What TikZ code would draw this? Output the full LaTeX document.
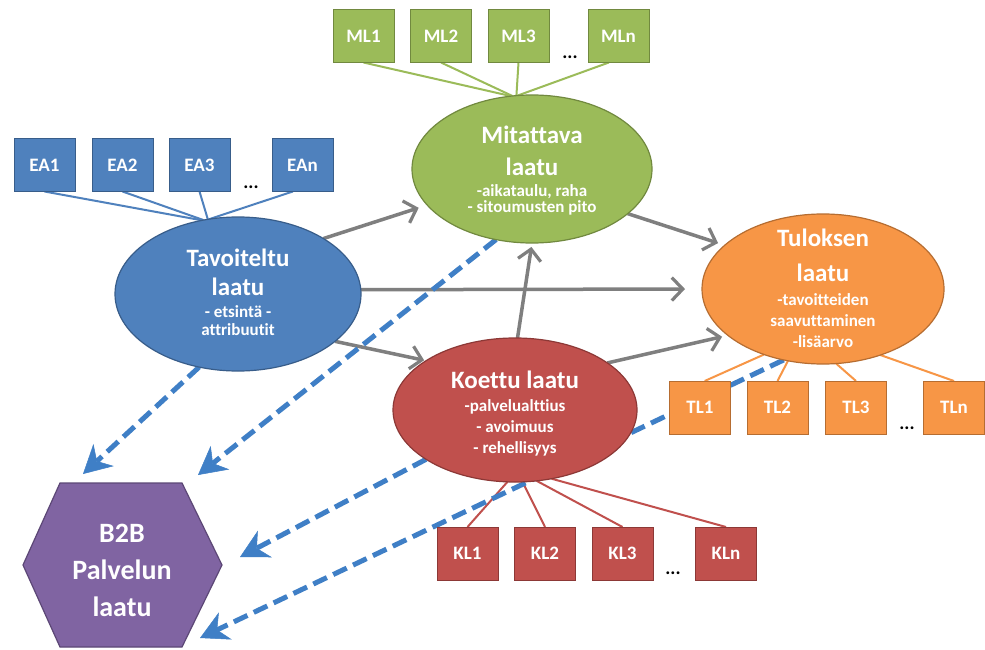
\documentclass[tikz,border=0pt]{standalone}
\usepackage{fontspec}
\setmainfont{Carlito}[Ligatures=NoCommon]
\usetikzlibrary{arrows.meta,shapes.geometric}

\definecolor{bluefill}{HTML}{4F81BD}
\definecolor{blueedge}{HTML}{385D8A}
\definecolor{greenfill}{HTML}{9BBB59}
\definecolor{greenedge}{HTML}{71893F}
\definecolor{orangefill}{HTML}{F79646}
\definecolor{orangeedge}{HTML}{B66D31}
\definecolor{redfill}{HTML}{C0504D}
\definecolor{rededge}{HTML}{8C3836}
\definecolor{purplefill}{HTML}{8064A2}
\definecolor{purpleedge}{HTML}{5C4776}
\definecolor{arrowgray}{HTML}{7F7F7F}
\definecolor{dashblue}{HTML}{3F7FC6}

\pgfdeclarelayer{paper}
\pgfdeclarelayer{links}
\pgfsetlayers{paper,links,main}

\tikzset{
  oval/.style={ellipse, inner sep=0pt, outer sep=0pt, line width=1.2pt},
  ttl/.style={text=white, align=center, inner sep=0pt,
    font=\bfseries\fontsize{25}{#1}\selectfont},
  sub/.style={text=white, align=center, inner sep=0pt,
    font=\bfseries\fontsize{17}{#1}\selectfont},
  sbox/.style={rectangle, minimum width=61pt, minimum height=53pt, inner sep=0pt,
    outer sep=0pt, line width=1pt, text=white,
    font=\bfseries\fontsize{19}{22}\selectfont},
  eabox/.style={sbox, fill=bluefill, draw=blueedge},
  mlbox/.style={sbox, fill=greenfill, draw=greenedge},
  tlbox/.style={sbox, fill=orangefill, draw=orangeedge},
  klbox/.style={sbox, fill=redfill, draw=rededge},
  dots/.style={anchor=base, inner sep=0pt, text=black,
    font=\bfseries\fontsize{19}{22}\selectfont},
  tie/.style={line width=2pt},
  garrow/.style={draw=arrowgray, line width=3.5pt,
    -{Straight Barb[length=11pt, width=23pt, line width=3.2pt]}},
  darrow/.style={draw=dashblue, line width=5pt, dash pattern=on 15pt off 7pt,
    -{Stealth[length=28pt, width=30pt, inset=9pt, line width=0.5pt]}}
}

\begin{document}
\begin{tikzpicture}[x=1pt, y=-1pt]
\useasboundingbox (0,0) rectangle (985,650);
\begin{pgfonlayer}{paper}
  \fill[white] (0,0) rectangle (985,650);
\end{pgfonlayer}

% the four quality ellipses
\node[oval, fill=bluefill, draw=blueedge, minimum width=246pt, minimum height=154pt] (tav) at (238,294) {};
\node[oval, fill=greenfill, draw=greenedge, minimum width=240pt, minimum height=148pt] (mit) at (532,169) {};
\node[oval, fill=orangefill, draw=orangeedge, minimum width=242pt, minimum height=150pt] (tul) at (823,289) {};
\node[oval, fill=redfill, draw=rededge, minimum width=244pt, minimum height=144pt] (koe) at (515,410) {};

\node[ttl=29] (tav-t) at (238,272) {Tavoiteltu\\laatu};
\node[sub=18] (tav-s) at (238,321) {- etsintä -\\attribuutit};
\node[ttl=32] (mit-t) at (532,151) {Mitattava\\laatu};
\node[sub=16] (mit-s) at (532,200) {-aikataulu, raha\\- sitoumusten pito};
\node[ttl=35] (tul-t) at (823,255) {Tuloksen\\laatu};
\node[sub=21] (tul-s) at (823,321) {-tavoitteiden\\saavuttaminen\\-lisäarvo};
\node[ttl=31] (koe-t) at (515,380) {Koettu laatu};
\node[sub=21] (koe-s) at (515,428) {-palvelualttius\\- avoimuus\\- rehellisyys};

% service quality hexagon
\filldraw[fill=purplefill, draw=purpleedge, line width=1.2pt]
  (23,565) -- (60,483) -- (182,483) -- (222,565) -- (182,647) -- (60,647) -- cycle;
\node[text=white, align=center, inner sep=0pt, font=\bfseries\fontsize{28}{37}\selectfont]
  (b2b) at (122,570) {B2B\\Palvelun\\laatu};

% attribute boxes
\node[eabox] (ea1) at (44.5,165) {EA1};
\node[eabox] (ea2) at (122.5,165) {EA2};
\node[eabox] (ea3) at (199.5,165) {EA3};
\node[eabox] (ean) at (302.5,165) {EAn};
\node[dots] (ea-dots) at (251,188) {...};

\node[mlbox] (ml1) at (363.5,36) {ML1};
\node[mlbox] (ml2) at (441,36) {ML2};
\node[mlbox] (ml3) at (518.5,36) {ML3};
\node[mlbox] (mln) at (618.5,36) {MLn};
\node[dots] (ml-dots) at (570,59) {...};

\node[tlbox] (tl1) at (700,407.5) {TL1};
\node[tlbox] (tl2) at (777.5,407.5) {TL2};
\node[tlbox] (tl3) at (856,407.5) {TL3};
\node[tlbox] (tln) at (954,407.5) {TLn};
\node[dots] (tl-dots) at (907,429) {...};

\node[klbox] (kl1) at (467.5,553.5) {KL1};
\node[klbox] (kl2) at (545,553.5) {KL2};
\node[klbox] (kl3) at (622.5,553.5) {KL3};
\node[klbox] (kln) at (726,553.5) {KLn};
\node[dots] (kl-dots) at (673,574) {...};

% free ends of the dashed arrows, next to the hexagon
\coordinate (in-a) at (83,474);
\coordinate (in-b) at (198,475);
\coordinate (in-c) at (240,557);
\coordinate (in-d) at (200,638);

\begin{pgfonlayer}{links}
  % ties from attribute boxes to their ellipse
  \draw[tie, bluefill] (ea1.south) -- (tav.116);
  \draw[tie, bluefill] (ea2.south) -- (tav.115);
  \draw[tie, bluefill] (ea3.south) -- (tav.112);
  \draw[tie, bluefill] (ean.-110) -- (tav.111);

  \draw[tie, greenfill] (ml1.south) -- (mit.106);
  \draw[tie, greenfill] (ml2.south) -- (mit.105);
  \draw[tie, greenfill] (ml3.south) -- (mit.102);
  \draw[tie, greenfill] (mln.-110) -- (mit.101);

  \draw[tie, orangefill] (tl1.80) -- (tul.228);
  \draw[tie, orangefill] (tl2.north) -- (tul.244);
  \draw[tie, orangefill] (tl3.north) -- (tul.280);
  \draw[tie, orangefill] (tln.north) -- (tul.311);

  \draw[tie, redfill] (kl1.north) -- (koe.264);
  \draw[tie, redfill] (kl2.north) -- (koe.276);
  \draw[tie, redfill] (kl3.north) -- (koe.287);
  \draw[tie, redfill] (kln.north) -- (koe.298);

  % influence arrows between the qualities
  \draw[garrow, shorten >=9pt] (tav.33) -- (mit.199);
  \draw[garrow, shorten >=17pt] (tav.2) -- (tul.180);
  \draw[garrow, shorten >=2pt] (tav.-26) -- (koe.151);
  \draw[garrow, shorten >=7pt] (mit.-25) -- (tul.156);
  \draw[garrow, shorten >=4pt] (koe.88) -- (mit.270);
  \draw[garrow, shorten >=6pt] (koe.27) -- (tul.206);

  % contributions to the service quality
  \draw[darrow] (tav.-118) -- (in-a);
  \draw[darrow] (mit.-117) -- (in-b);
  \draw[darrow] (koe.209) -- (in-c);
  \draw[darrow] (tul.241) -- (in-d);
\end{pgfonlayer}
\end{tikzpicture}
\end{document}
